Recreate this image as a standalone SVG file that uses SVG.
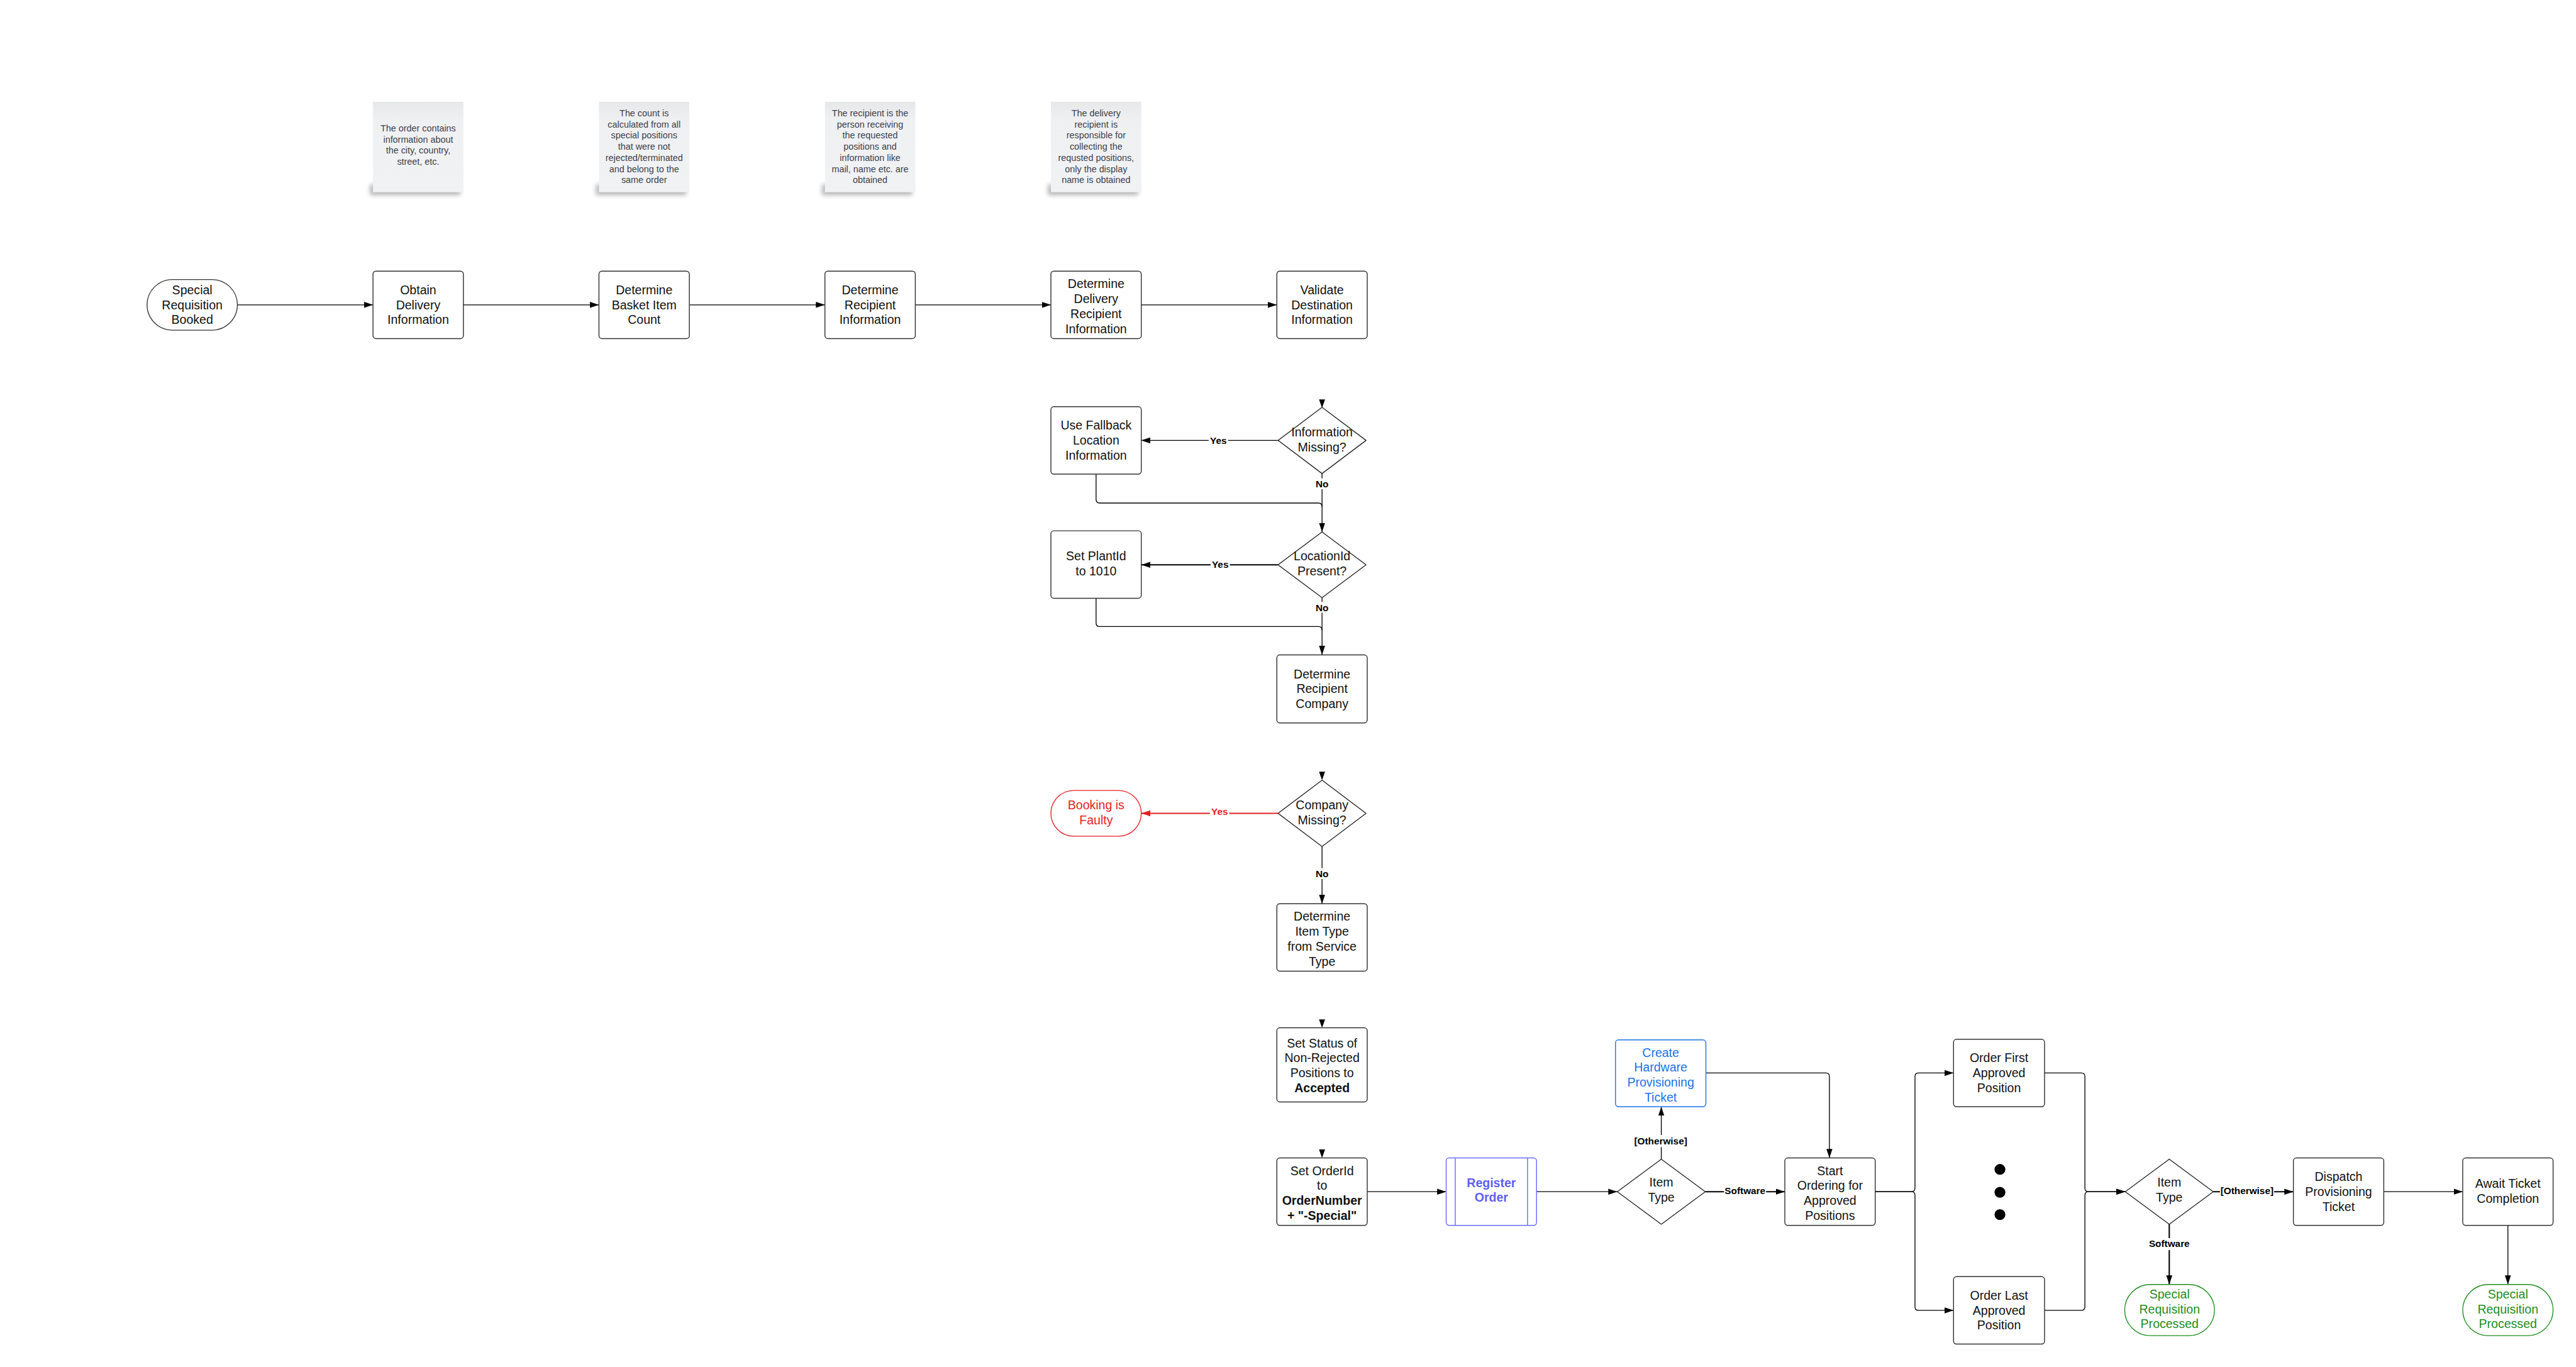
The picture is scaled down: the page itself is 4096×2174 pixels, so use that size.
<svg xmlns="http://www.w3.org/2000/svg" width="4096" height="2174" viewBox="0 0 4096 2174">
<style>
text{font-family:"Liberation Sans",Arial,sans-serif;text-anchor:middle}
.t{font-size:20.4px;fill:#111}
.b{font-weight:bold}
.box{fill:#fff;stroke:#333;stroke-width:1.5}
.dia{fill:#fff;stroke:#222;stroke-width:1.4;stroke-linejoin:round}
.note{fill:url(#ng)}
.nt{font-size:15px;fill:#3b4049}
.lbl{font-size:16px;font-weight:bold;fill:#000}
.e{fill:none;stroke:#000;stroke-width:1.4}
.thk{stroke-width:2.2}
.gap{fill:#fff}
.red{fill:#e81e25}
.grn{fill:#1e8e1e}
.blu{fill:#1a73e8}
.pur{fill:#5f5ff2}
</style>
<defs>
<linearGradient id="ng" x1="0" y1="0" x2="0" y2="1">
<stop offset="0" stop-color="#e7e8ea"/>
<stop offset="0.2" stop-color="#eff0f2"/>
<stop offset="1" stop-color="#f1f2f4"/>
</linearGradient>
<filter id="blur" x="-20%" y="-100%" width="140%" height="300%"><feGaussianBlur stdDeviation="4"/></filter>
<marker id="ah" viewBox="0 0 15 10" refX="15" refY="5" markerWidth="15" markerHeight="10" markerUnits="userSpaceOnUse" orient="auto"><path d="M0,0 L15,5 L0,10 z" fill="#000"/></marker>
<marker id="ahr" viewBox="0 0 15 10" refX="15" refY="5" markerWidth="15" markerHeight="10" markerUnits="userSpaceOnUse" orient="auto"><path d="M0,0 L15,5 L0,10 z" fill="#e81e25"/></marker>
</defs>
<rect width="4096" height="2174" fill="#fff"/>
<g transform="scale(0.958129)">

<g id="notes">
<g id="note1"><rect x="614" y="306" width="150" height="18" fill="#000" opacity="0.28" filter="url(#blur)"/><rect class="note" x="619" y="169" width="150" height="150"/>
<text class="nt"><tspan x="694" y="218">The order contains</tspan><tspan x="694" y="236.5">information about</tspan><tspan x="694" y="255">the city, country,</tspan><tspan x="694" y="273.5">street, etc.</tspan></text></g>
<g id="note2"><rect x="989" y="306" width="150" height="18" fill="#000" opacity="0.28" filter="url(#blur)"/><rect class="note" x="994" y="169" width="150" height="150"/>
<text class="nt"><tspan x="1069" y="193">The count is</tspan><tspan x="1069" y="211.5">calculated from all</tspan><tspan x="1069" y="230">special positions</tspan><tspan x="1069" y="248.5">that were not</tspan><tspan x="1069" y="267">rejected/terminated</tspan><tspan x="1069" y="285.5">and belong to the</tspan><tspan x="1069" y="304">same order</tspan></text></g>
<g id="note3"><rect x="1364" y="306" width="150" height="18" fill="#000" opacity="0.28" filter="url(#blur)"/><rect class="note" x="1369" y="169" width="150" height="150"/>
<text class="nt"><tspan x="1444" y="193">The recipient is the</tspan><tspan x="1444" y="211.5">person receiving</tspan><tspan x="1444" y="230">the requested</tspan><tspan x="1444" y="248.5">positions and</tspan><tspan x="1444" y="267">information like</tspan><tspan x="1444" y="285.5">mail, name etc. are</tspan><tspan x="1444" y="304">obtained</tspan></text></g>
<g id="note4"><rect x="1739" y="306" width="150" height="18" fill="#000" opacity="0.28" filter="url(#blur)"/><rect class="note" x="1744" y="169" width="150" height="150"/>
<text class="nt"><tspan x="1819" y="193">The delivery</tspan><tspan x="1819" y="211.5">recipient is</tspan><tspan x="1819" y="230">responsible for</tspan><tspan x="1819" y="248.5">collecting the</tspan><tspan x="1819" y="267">requsted positions,</tspan><tspan x="1819" y="285.5">only the display</tspan><tspan x="1819" y="304">name is obtained</tspan></text></g>
</g>

<g id="connectors">
<path class="e" d="M394,506 H619" marker-end="url(#ah)"/>
<path class="e" d="M769,506 H994" marker-end="url(#ah)"/>
<path class="e" d="M1144,506 H1369" marker-end="url(#ah)"/>
<path class="e" d="M1519,506 H1744" marker-end="url(#ah)"/>
<path class="e" d="M1894,506 H2119" marker-end="url(#ah)"/>
<polygon points="2189,663 2199,663 2194,677" fill="#000"/>
<path class="e" d="M2121,731 H1894" marker-end="url(#ah)"/>
<path class="e" d="M2194,786 V883" marker-end="url(#ah)"/>
<path class="e" d="M1819,787 V829 Q1819,835 1825,835 H2188 Q2194,835 2194,841"/>
<path class="e thk" d="M2121,937.5 H1894" marker-end="url(#ah)"/>
<path class="e" d="M2194,992 V1087" marker-end="url(#ah)"/>
<path class="e" d="M1819,993 V1034 Q1819,1040 1825,1040 H2188 Q2194,1040 2194,1046"/>
<polygon points="2189,1281 2199,1281 2194,1295" fill="#000"/>
<path class="e thk" style="stroke:#e81e25" d="M2121,1350 H1894" marker-end="url(#ahr)"/>
<path class="e" d="M2194,1405 V1500" marker-end="url(#ah)"/>
<polygon points="2189,1692 2199,1692 2194,1706" fill="#000"/>
<polygon points="2189,1908 2199,1908 2194,1922" fill="#000"/>
<path class="e" d="M2269,1978 H2400" marker-end="url(#ah)"/>
<path class="e" d="M2550,1978 H2684" marker-end="url(#ah)"/>
<path class="e" d="M2757,1924 V1837" marker-end="url(#ah)"/>
<path class="e thk" d="M2830,1978 H2962" marker-end="url(#ah)"/>
<path class="e" d="M2831,1781 H3030 Q3036,1781 3036,1787 V1922" marker-end="url(#ah)"/>
<path class="e" d="M3112,1978 H3172 Q3178,1978 3178,1972 V1787 Q3178,1781 3184,1781 H3242" marker-end="url(#ah)"/>
<path class="e" d="M3112,1978 H3172 Q3178,1978 3178,1984 V2169 Q3178,2175 3184,2175 H3242" marker-end="url(#ah)"/>
<path class="e" d="M3393,1781 H3454 Q3460,1781 3460,1787 V1972 Q3460,1978 3466,1978 H3527" marker-end="url(#ah)"/>
<path class="e" d="M3393,2175 H3454 Q3460,2175 3460,2169 V1984 Q3460,1978 3466,1978 H3527" marker-end="url(#ah)"/>
<path class="e thk" d="M3673,1978 H3806" marker-end="url(#ah)"/>
<path class="e thk" d="M3600,2032 V2132" marker-end="url(#ah)"/>
<path class="e" d="M3956,1978 H4087" marker-end="url(#ah)"/>
<path class="e" d="M4162,2034 V2132" marker-end="url(#ah)"/>
<rect class="gap" x="2006" y="722" width="32" height="18"/><text class="lbl" x="2022" y="737">Yes</text>
<rect class="gap" x="2183" y="794" width="22" height="18"/><text class="lbl" x="2194" y="809">No</text>
<rect class="gap" x="2009" y="927" width="32" height="18"/><text class="lbl" x="2025" y="942">Yes</text>
<rect class="gap" x="2183" y="999" width="22" height="18"/><text class="lbl" x="2194" y="1014">No</text>
<rect class="gap" x="2008" y="1338" width="32" height="18"/><text class="lbl red" x="2024" y="1353">Yes</text>
<rect class="gap" x="2183" y="1441" width="22" height="18"/><text class="lbl" x="2194" y="1456">No</text>
<rect class="gap" x="2710" y="1884" width="92" height="20"/><text class="lbl" x="2756" y="1900">[Otherwise]</text>
<rect class="gap" x="2861" y="1967" width="70" height="18"/><text class="lbl" x="2896" y="1982">Software</text>
<rect class="gap" x="3684" y="1966" width="90" height="20"/><text class="lbl" x="3729" y="1982">[Otherwise]</text>
<rect class="gap" x="3565" y="2055" width="70" height="20"/><text class="lbl" x="3600" y="2070">Software</text>
</g>

<g id="start"><rect x="244" y="464" width="150" height="84" rx="42" fill="#fff" stroke="#333" stroke-width="1.4"/>
<text class="t"><tspan x="319" y="488.2">Special</tspan><tspan x="319" y="513">Requisition</tspan><tspan x="319" y="537.8">Booked</tspan></text></g>
<g id="obtain"><rect class="box" x="619" y="450" width="150" height="112" rx="5"/>
<text class="t"><tspan x="694" y="488.2">Obtain</tspan><tspan x="694" y="513">Delivery</tspan><tspan x="694" y="537.8">Information</tspan></text></g>
<g id="basket"><rect class="box" x="994" y="450" width="150" height="112" rx="5"/>
<text class="t"><tspan x="1069" y="488.2">Determine</tspan><tspan x="1069" y="513">Basket Item</tspan><tspan x="1069" y="537.8">Count</tspan></text></g>
<g id="recipient"><rect class="box" x="1369" y="450" width="150" height="112" rx="5"/>
<text class="t"><tspan x="1444" y="488.2">Determine</tspan><tspan x="1444" y="513">Recipient</tspan><tspan x="1444" y="537.8">Information</tspan></text></g>
<g id="delivery-recipient"><rect class="box" x="1744" y="450" width="150" height="112" rx="5"/>
<text class="t"><tspan x="1819" y="478.3">Determine</tspan><tspan x="1819" y="503.1">Delivery</tspan><tspan x="1819" y="527.9">Recipient</tspan><tspan x="1819" y="552.7">Information</tspan></text></g>
<g id="validate"><rect class="box" x="2119" y="450" width="150" height="112" rx="5"/>
<text class="t"><tspan x="2194" y="488.2">Validate</tspan><tspan x="2194" y="513">Destination</tspan><tspan x="2194" y="537.8">Information</tspan></text></g>

<g id="info-missing"><polygon class="dia" points="2194,676 2267,731 2194,786 2121,731"/>
<text class="t"><tspan x="2194" y="724">Information</tspan><tspan x="2194" y="749">Missing?</tspan></text></g>
<g id="fallback"><rect class="box" x="1744" y="675" width="150" height="112" rx="5"/>
<text class="t"><tspan x="1819" y="713.2">Use Fallback</tspan><tspan x="1819" y="738">Location</tspan><tspan x="1819" y="762.8">Information</tspan></text></g>
<g id="location-present"><polygon class="dia" points="2194,883 2267,937.5 2194,992 2121,937.5"/>
<text class="t"><tspan x="2194" y="930">LocationId</tspan><tspan x="2194" y="955">Present?</tspan></text></g>
<g id="plantid"><rect class="box" x="1744" y="881" width="150" height="112" rx="5"/>
<text class="t"><tspan x="1819" y="930">Set PlantId</tspan><tspan x="1819" y="955">to 1010</tspan></text></g>
<g id="company"><rect class="box" x="2119" y="1087" width="150" height="113" rx="5"/>
<text class="t"><tspan x="2194" y="1125.7">Determine</tspan><tspan x="2194" y="1150.5">Recipient</tspan><tspan x="2194" y="1175.3">Company</tspan></text></g>
<g id="company-missing"><polygon class="dia" points="2194,1295 2267,1350 2194,1405 2121,1350"/>
<text class="t"><tspan x="2194" y="1343">Company</tspan><tspan x="2194" y="1368">Missing?</tspan></text></g>
<g id="faulty"><rect x="1744" y="1312" width="150" height="76" rx="38" fill="#fff" stroke="#e81e25" stroke-width="1.4"/>
<text class="t red"><tspan x="1819" y="1343">Booking is</tspan><tspan x="1819" y="1368">Faulty</tspan></text></g>
<g id="item-type-det"><rect class="box" x="2119" y="1500" width="150" height="112" rx="5"/>
<text class="t"><tspan x="2194" y="1528.3">Determine</tspan><tspan x="2194" y="1553.1">Item Type</tspan><tspan x="2194" y="1577.9">from Service</tspan><tspan x="2194" y="1602.7">Type</tspan></text></g>
<g id="set-status"><rect class="box" x="2119" y="1706" width="150" height="123" rx="5"/>
<text class="t"><tspan x="2194" y="1738.5">Set Status of</tspan><tspan x="2194" y="1763.3">Non-Rejected</tspan><tspan x="2194" y="1788.1">Positions to</tspan><tspan x="2194" y="1812.9" class="b">Accepted</tspan></text></g>
<g id="set-orderid"><rect class="box" x="2119" y="1922" width="150" height="112" rx="5"/>
<text class="t"><tspan x="2194" y="1950.3">Set OrderId</tspan><tspan x="2194" y="1975.1">to</tspan><tspan x="2194" y="1999.9" class="b">OrderNumber</tspan><tspan x="2194" y="2024.7" class="b">+ "-Special"</tspan></text></g>
<g id="register-order"><rect x="2400" y="1922" width="150" height="112" rx="5" fill="#fff" stroke="#6b6bff" stroke-width="1.5"/>
<line x1="2415" y1="1922" x2="2415" y2="2034" stroke="#6b6bff" stroke-width="1.5"/><line x1="2535" y1="1922" x2="2535" y2="2034" stroke="#6b6bff" stroke-width="1.5"/>
<text class="t b pur"><tspan x="2475" y="1970">Register</tspan><tspan x="2475" y="1994.5">Order</tspan></text></g>
<g id="item-type-1"><polygon class="dia" points="2757,1924 2830,1978 2757,2032 2684,1978"/>
<text class="t"><tspan x="2757" y="1969">Item</tspan><tspan x="2757" y="1994">Type</tspan></text></g>
<g id="create-hw"><rect x="2681" y="1726" width="150" height="111" rx="5" fill="#fff" stroke="#1a73e8" stroke-width="1.5"/>
<text class="t blu"><tspan x="2756" y="1754">Create</tspan><tspan x="2756" y="1778.8">Hardware</tspan><tspan x="2756" y="1803.6">Provisioning</tspan><tspan x="2756" y="1828.4">Ticket</tspan></text></g>
<g id="start-ordering"><rect class="box" x="2962" y="1922" width="150" height="112" rx="5"/>
<text class="t"><tspan x="3037" y="1950.3">Start</tspan><tspan x="3037" y="1975.1">Ordering for</tspan><tspan x="3037" y="1999.9">Approved</tspan><tspan x="3037" y="2024.7">Positions</tspan></text></g>
<g id="order-first"><rect class="box" x="3242" y="1725" width="151" height="112" rx="5"/>
<text class="t"><tspan x="3317.5" y="1763.2">Order First</tspan><tspan x="3317.5" y="1788">Approved</tspan><tspan x="3317.5" y="1812.8">Position</tspan></text></g>
<g id="ellipsis"><circle cx="3319" cy="1941" r="9" fill="#000"/><circle cx="3319" cy="1979" r="9" fill="#000"/><circle cx="3319" cy="2016" r="9" fill="#000"/></g>
<g id="order-last"><rect class="box" x="3242" y="2119" width="151" height="112" rx="5"/>
<text class="t"><tspan x="3317.5" y="2157.2">Order Last</tspan><tspan x="3317.5" y="2182">Approved</tspan><tspan x="3317.5" y="2206.8">Position</tspan></text></g>
<g id="item-type-2"><polygon class="dia" points="3600,1924 3673,1978 3600,2032 3527,1978"/>
<text class="t"><tspan x="3600" y="1969">Item</tspan><tspan x="3600" y="1994">Type</tspan></text></g>
<g id="dispatch"><rect class="box" x="3806" y="1922" width="150" height="112" rx="5"/>
<text class="t"><tspan x="3881" y="1960.2">Dispatch</tspan><tspan x="3881" y="1985">Provisioning</tspan><tspan x="3881" y="2009.8">Ticket</tspan></text></g>
<g id="await"><rect class="box" x="4087" y="1922" width="150" height="112" rx="5"/>
<text class="t"><tspan x="4162" y="1972">Await Ticket</tspan><tspan x="4162" y="1996.8">Completion</tspan></text></g>
<g id="end-1"><rect x="3526" y="2132" width="149" height="85" rx="42.5" fill="#fff" stroke="#1e8e1e" stroke-width="1.4"/>
<text class="t grn"><tspan x="3600.5" y="2155">Special</tspan><tspan x="3600.5" y="2179.8">Requisition</tspan><tspan x="3600.5" y="2204.6">Processed</tspan></text></g>
<g id="end-2"><rect x="4087" y="2132" width="150" height="85" rx="42.5" fill="#fff" stroke="#1e8e1e" stroke-width="1.4"/>
<text class="t grn"><tspan x="4162" y="2155">Special</tspan><tspan x="4162" y="2179.8">Requisition</tspan><tspan x="4162" y="2204.6">Processed</tspan></text></g>
</g>
</svg>
